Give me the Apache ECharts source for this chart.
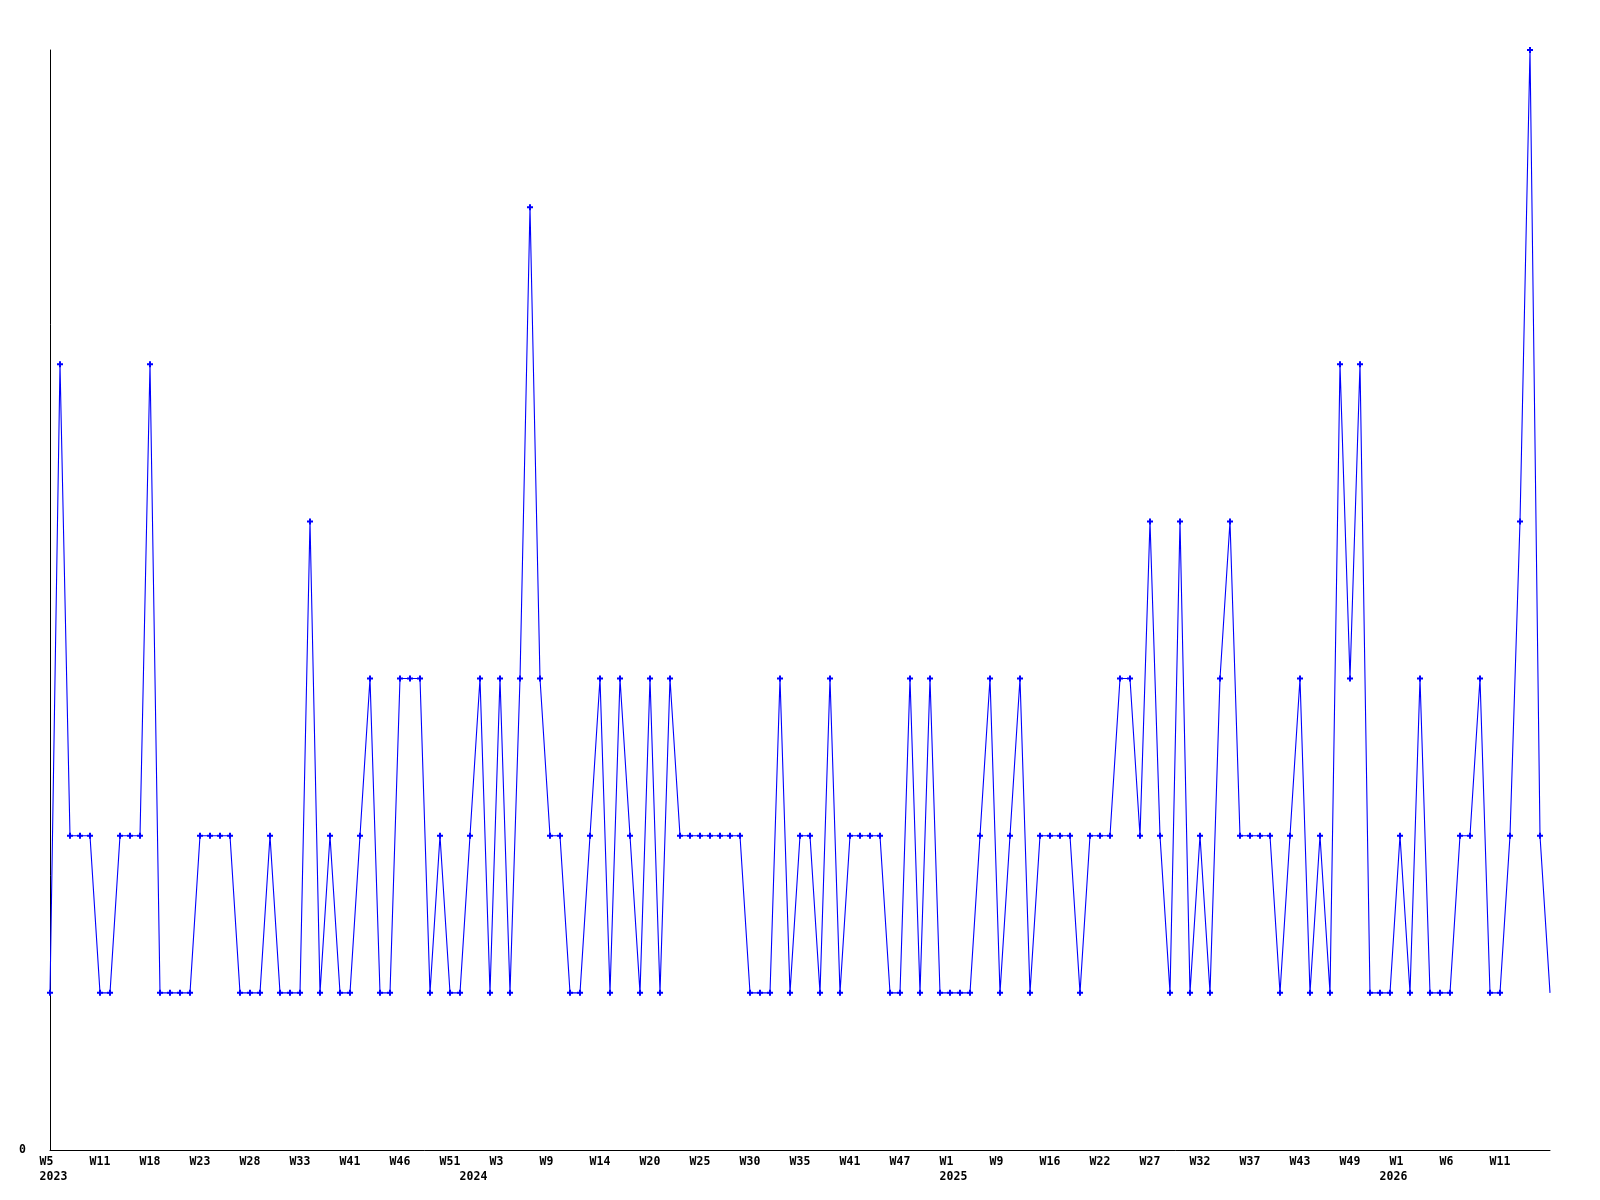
<!DOCTYPE html>
<html>
<head>
<meta charset="utf-8">
<script src="https://cdn.jsdelivr.net/npm/echarts@6/dist/echarts.min.js"></script>
<style>
  html, body { margin: 0; padding: 0; background: #fff; }
  #chart { width: 1600px; height: 1200px; }
</style>
</head>
<body>
<div id="chart"></div>
<script>
// Series values (one per data point, in order)
const values = [
  1, 5, 2, 2, 2, 1, 1, 2, 2, 2,
  5, 1, 1, 1, 1, 2, 2, 2, 2, 1,
  1, 1, 2, 1, 1, 1, 4, 1, 2, 1,
  1, 2, 3, 1, 1, 3, 3, 3, 1, 2,
  1, 1, 2, 3, 1, 3, 1, 3, 6, 3,
  2, 2, 1, 1, 2, 3, 1, 3, 2, 1,
  3, 1, 3, 2, 2, 2, 2, 2, 2, 2,
  1, 1, 1, 3, 1, 2, 2, 1, 3, 1,
  2, 2, 2, 2, 1, 1, 3, 1, 3, 1,
  1, 1, 1, 2, 3, 1, 2, 3, 1, 2,
  2, 2, 2, 1, 2, 2, 2, 3, 3, 2,
  4, 2, 1, 4, 1, 2, 1, 3, 4, 2,
  2, 2, 2, 1, 2, 3, 1, 2, 1, 5,
  3, 5, 1, 1, 1, 2, 1, 3, 1, 1,
  1, 2, 2, 3, 1, 1, 2, 4, 7, 2,
  1
];

// Week tick labels, shown at every 5th data point
const tickEvery = 5;
const weekTicks = [
  'W5', 'W11', 'W18', 'W23', 'W28', 'W33', 'W41', 'W46', 'W51', 'W3',
  'W9', 'W14', 'W20', 'W25', 'W30', 'W35', 'W41', 'W47', 'W1', 'W9',
  'W16', 'W22', 'W27', 'W32', 'W37', 'W43', 'W49', 'W1', 'W6', 'W11'
];

// Year labels and the data point where each year starts
const yearLabels = ['2023', '2024', '2025', '2026'];
const yearIndex = [0, 42, 90, 134];

// Y tick labels
const yTickLabels = ['0'];

const categories = values.map((_, i) => String(i));

const seriesData = values.map((v, i) =>
  i === values.length - 1 ? { value: v, symbol: 'none' } : v
);

const font = {
  fontFamily: 'DejaVu Sans Mono',
  fontWeight: 'bold',
  fontSize: 11.5,
  color: '#000'
};

function padWeek(s) {
  while (s.length < 3) s += ' ';
  return s;
}

function isShown(i) {
  return i % tickEvery === 0 || yearIndex.indexOf(i) >= 0;
}

const chart = echarts.init(document.getElementById('chart'), null, { renderer: 'canvas' });

chart.setOption({
  animation: false,
  backgroundColor: '#ffffff',
  grid: {
    left: 50,
    right: 50,
    top: 50,
    bottom: 50,
    containLabel: false,
    outerBoundsMode: 'none'
  },
  xAxis: {
    type: 'category',
    data: categories,
    boundaryGap: false,
    axisLine: { show: true, lineStyle: { color: '#000', width: 1 } },
    axisTick: { show: false },
    splitLine: { show: false },
    axisLabel: Object.assign({}, font, {
      margin: 5,
      lineHeight: 15,
      align: 'center',
      hideOverlap: false,
      interval: function (index) { return isShown(index); },
      formatter: function (value, index) {
        if (!isShown(index)) return '';
        let top = '   ';
        if (index % tickEvery === 0) {
          const w = weekTicks[index / tickEvery];
          top = w ? padWeek(w) : '   ';
        }
        const yi = yearIndex.indexOf(index);
        if (yi >= 0) {
          return top + '\n ' + yearLabels[yi];
        }
        return top;
      }
    })
  },
  yAxis: {
    type: 'value',
    min: 0,
    max: 7,
    interval: 7,
    axisLine: { show: true, lineStyle: { color: '#000', width: 1 } },
    axisTick: { show: false },
    splitLine: { show: false },
    axisLabel: Object.assign({}, font, {
      margin: 24,
      formatter: function (v) {
        return v === 0 ? yTickLabels[0] : '';
      }
    })
  },
  series: [{
    type: 'line',
    data: seriesData,
    symbol: 'path://M1,0H2V1H3V2H2V3H1V2H0V1H1Z',
    symbolSize: 6,
    showAllSymbol: true,
    itemStyle: { color: '#0000ff' },
    lineStyle: { color: '#0000ff', width: 1.1 },
    emphasis: { disabled: true },
    silent: true
  }]
});
</script>
</body>
</html>
